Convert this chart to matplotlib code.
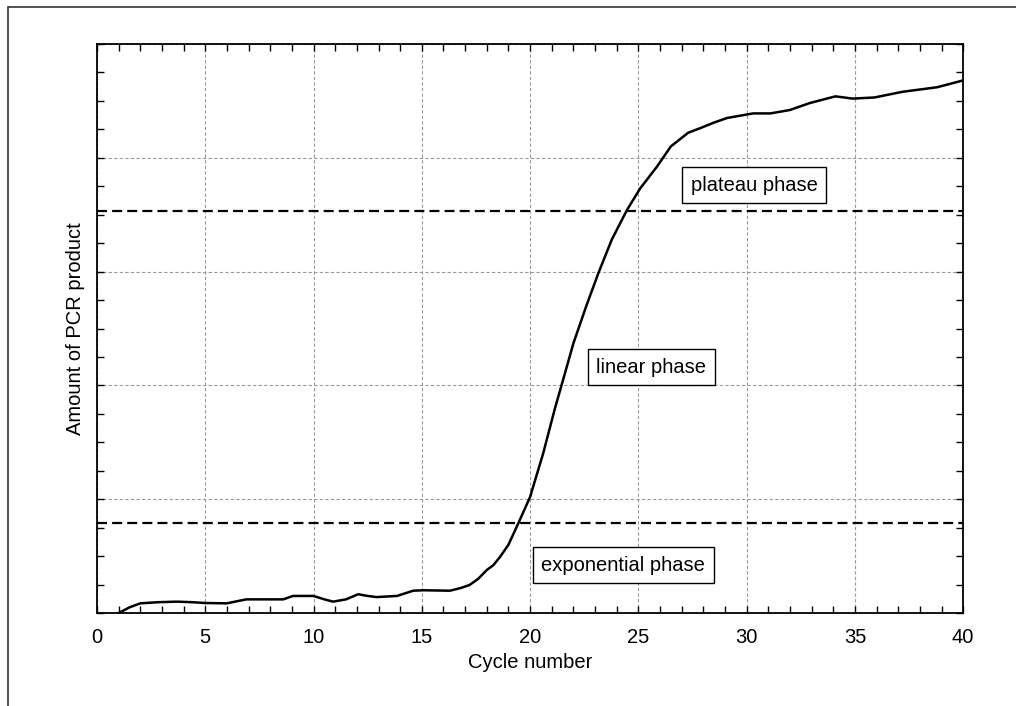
import matplotlib
matplotlib.use("Agg")
import matplotlib.pyplot as plt
from matplotlib.patches import Rectangle
from matplotlib.ticker import MultipleLocator

plt.rcParams['font.family'] = ['Liberation Sans', 'DejaVu Sans']

# PCR amplification curve
cycles = [1.0, 1.5, 2.0, 2.8, 3.7, 4.4, 5.0, 6.0, 6.5, 6.9, 7.8, 8.6, 9.05, 10.0, 10.5,
          10.9, 11.5, 12.06, 12.5, 12.9, 13.85, 14.6, 15.06, 16.3, 16.8, 17.2, 17.6,
          18.0, 18.3, 18.6, 19.0, 19.46, 20.0, 20.6, 21.15, 21.6, 22.0, 22.6, 23.15,
          23.77, 24.47, 25.08, 25.85, 26.5, 27.3, 27.85, 28.5, 29.1, 30.3, 31.1, 32.0,
          32.9, 34.1, 34.9, 35.9, 37.2, 38.8, 40.0]
product = [0.0, 0.05, 0.085, 0.095, 0.1, 0.095, 0.088, 0.085, 0.105, 0.12, 0.12, 0.12,
           0.15, 0.15, 0.12, 0.1, 0.12, 0.165, 0.15, 0.14, 0.15, 0.196, 0.2, 0.196,
           0.22, 0.246, 0.3, 0.378, 0.42, 0.49, 0.6, 0.79, 1.02, 1.4, 1.8, 2.1, 2.37,
           2.7, 2.985, 3.28, 3.54, 3.73, 3.92, 4.1, 4.22, 4.26, 4.31, 4.35, 4.39, 4.39,
           4.42, 4.48, 4.54, 4.52, 4.53, 4.58, 4.62, 4.68]

# phase thresholds
thresholds = [0.79, 3.53]
phase_labels = ["exponential phase", "linear phase", "plateau phase"]
phase_pos = [(24.3, 0.42), (25.6, 2.16), (30.35, 3.76)]

fig = plt.figure(figsize=(10.16, 7.06), dpi=100)
ax = fig.add_axes([0.0955, 0.1317, 0.8525, 0.806])

# outer frame (only top and left visible)
fig.add_artist(Rectangle((8 / 1016, -0.5), 2.0, 1.49, transform=fig.transFigure,
                         fill=False, edgecolor='#333333', linewidth=1.2, clip_on=False))

ax.plot(cycles, product, color='black', linewidth=1.8, zorder=3)

for t in thresholds:
    ax.axhline(t, color='black', linewidth=1.6, dashes=(4.5, 2.3), zorder=2)

for label, (x, y) in zip(phase_labels, phase_pos):
    ax.text(x, y, label, ha='center', va='center', fontsize=14.5, zorder=4,
            bbox=dict(boxstyle='square,pad=0.42', facecolor='white',
                      edgecolor='black', linewidth=1.0))

ax.set_xlim(0, 40)
ax.set_ylim(0, 5)
ax.xaxis.set_major_locator(MultipleLocator(5))
ax.xaxis.set_minor_locator(MultipleLocator(1))
ax.yaxis.set_major_locator(MultipleLocator(1))
ax.yaxis.set_minor_locator(MultipleLocator(0.25))
ax.set_yticklabels([])
ax.tick_params(which='both', direction='in', top=True, right=True,
               length=5, width=1.0, labelsize=14.5)
ax.tick_params(axis='x', pad=11)
ax.tick_params(axis='y', pad=2)
ax.grid(True, which='major', color='#999999', linestyle=(0, (3, 2)), linewidth=0.8)
for s in ax.spines.values():
    s.set_linewidth(1.3)

ax.set_xlabel("Cycle number", fontsize=14.5, labelpad=4)
ax.set_ylabel("Amount of PCR product", fontsize=14.5, labelpad=5)

fig.savefig("out.png", dpi=100)
